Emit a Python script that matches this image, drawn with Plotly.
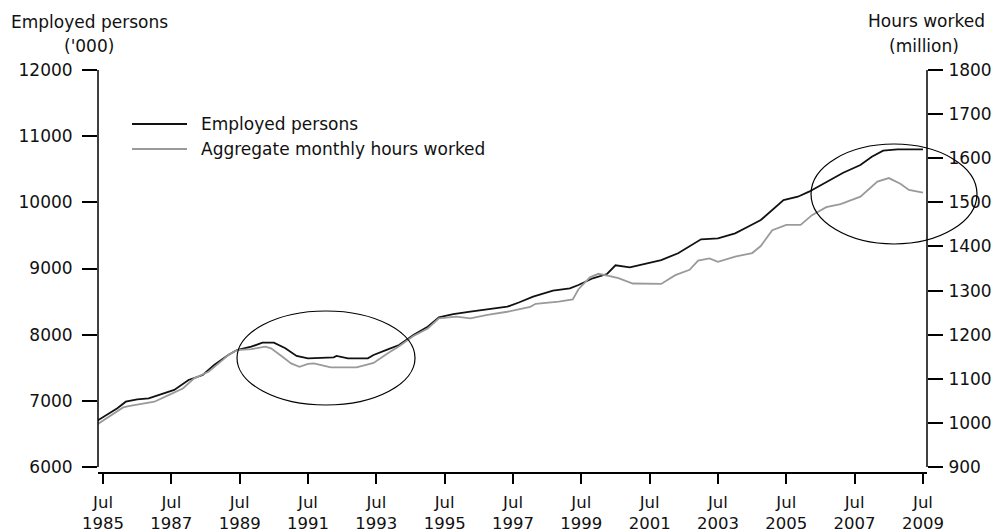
import plotly.graph_objects as go

# ---- data ----
emp_dates = ["1985-05", "1985-09", "1985-12", "1986-03", "1986-07", "1986-11", "1987-04", "1987-08",
             "1988-01", "1988-06", "1988-10", "1989-03", "1989-06", "1989-11", "1990-03", "1990-07",
             "1990-11", "1991-03", "1991-07", "1992-04", "1992-05", "1992-09", "1993-04", "1993-06",
             "1993-11", "1994-03", "1994-08", "1995-01", "1995-05", "1995-10", "1996-04", "1996-10",
             "1997-05", "1997-09", "1998-02", "1998-09", "1999-03", "1999-06", "1999-11", "2000-04",
             "2000-07", "2000-12", "2001-06", "2001-11", "2002-05", "2002-10", "2003-01", "2003-07",
             "2004-01", "2004-06", "2004-10", "2005-06", "2005-11", "2006-03", "2006-09", "2007-03",
             "2007-09", "2008-01", "2008-05", "2008-10", "2009-07"]
employed = [6700, 6812, 6887, 6987, 7023, 7038, 7114, 7164,
            7315, 7390, 7542, 7693, 7768, 7818, 7879, 7879,
            7794, 7678, 7643, 7658, 7678, 7643, 7643, 7693,
            7779, 7844, 7995, 8120, 8262, 8312, 8347, 8383,
            8423, 8486, 8574, 8664, 8701, 8751, 8852, 8917,
            9048, 9018, 9079, 9128, 9230, 9355, 9441, 9456,
            9532, 9642, 9733, 10035, 10085, 10161, 10312, 10448,
            10564, 10690, 10780, 10801, 10801]

hrs_dates = ["1985-05", "1985-09", "1986-02", "1986-04", "1986-10", "1987-01", "1987-06", "1987-11",
             "1988-03", "1988-08", "1989-01", "1989-03", "1989-06", "1989-11", "1990-04", "1990-06",
             "1990-10", "1991-01", "1991-04", "1991-07", "1991-09", "1992-03", "1992-12", "1993-06",
             "1993-11", "1994-03", "1994-08", "1995-01", "1995-05", "1995-11", "1996-04", "1996-10",
             "1997-05", "1997-09", "1998-01", "1998-03", "1998-11", "1999-04", "1999-06", "1999-10",
             "2000-01", "2000-05", "2000-08", "2001-01", "2001-11", "2002-04", "2002-09", "2002-12",
             "2003-04", "2003-07", "2004-01", "2004-07", "2004-10", "2005-02", "2005-07", "2005-12",
             "2006-04", "2006-09", "2007-02", "2007-09", "2008-03", "2008-07", "2008-11", "2009-02",
             "2009-07"]
hours = [997, 1014, 1035, 1038, 1044, 1048, 1063, 1078,
         1101, 1116, 1143, 1154, 1165, 1167, 1173, 1169,
         1150, 1135, 1127, 1134, 1135, 1126, 1126, 1136,
         1158, 1174, 1197, 1214, 1237, 1241, 1237, 1245,
         1252, 1257, 1263, 1270, 1275, 1280, 1303, 1330,
         1338, 1333, 1328, 1316, 1315, 1335, 1347, 1368,
         1373, 1365, 1377, 1385, 1401, 1437, 1449, 1449,
         1471, 1489, 1496, 1513, 1547, 1555, 1542, 1528,
         1522]

tick_years = [1985, 1987, 1989, 1991, 1993, 1995, 1997, 1999, 2001, 2003, 2005, 2007, 2009]
left_ticks = [6000, 7000, 8000, 9000, 10000, 11000, 12000]
right_ticks = [900, 1000, 1100, 1200, 1300, 1400, 1500, 1600, 1700, 1800]

series_names = ["Employed persons", "Aggregate monthly hours worked"]
series_colors = ["#111111", "#9a9a9a"]

FONT = "DejaVu Sans"
FS = 17
FSX = 16.5
TXT = "#111111"

fig = go.Figure()
fig.add_trace(go.Scatter(x=[d + "-01" for d in emp_dates], y=employed, mode="lines",
                         name=series_names[0], line=dict(color=series_colors[0], width=1.8),
                         yaxis="y", showlegend=False))
fig.add_trace(go.Scatter(x=[d + "-01" for d in hrs_dates], y=hours, mode="lines",
                         name=series_names[1], line=dict(color=series_colors[1], width=1.8),
                         yaxis="y2", showlegend=False))

fig.update_layout(
    width=1000, height=532,
    margin=dict(l=98, r=73, t=70, b=60),
    paper_bgcolor="white", plot_bgcolor="white",
    font=dict(family=FONT, size=FS, color=TXT),
    xaxis=dict(
        type="date", range=["1985-05-08", "2009-08-13"],
        tickvals=[f"{y}-07-01" for y in tick_years],
        ticktext=[f"Jul<br>{y}" for y in tick_years],
        ticks="outside", ticklen=10, tickwidth=1.5, tickcolor="black",
        showline=True, linecolor="black", linewidth=1.5,
        showgrid=False, zeroline=False, automargin=False,
        tickfont=dict(family=FONT, size=FSX, color=TXT),
        ticklabelstandoff=4,
    ),
    yaxis=dict(
        range=[5924.4, 12000], tickvals=left_ticks, ticktext=[str(v) for v in left_ticks],
        ticks="outside", ticklen=15, tickwidth=1.5, tickcolor="black",
        showline=False, showgrid=False, zeroline=False, automargin=False,
        tickfont=dict(family=FONT, size=FS, color=TXT),
        ticklabelstandoff=6,
    ),
    yaxis2=dict(
        range=[888.7, 1800], tickvals=right_ticks, ticktext=[str(v) for v in right_ticks],
        overlaying="y", side="right",
        ticks="outside", ticklen=15, tickwidth=1.5, tickcolor="black",
        showline=False, showgrid=False, zeroline=False, automargin=False,
        tickfont=dict(family=FONT, size=FS, color=TXT),
        ticklabelstandoff=2,
    ),
)

# axis lines (vertical axes stop at the bottom tick, as in the reference)
fig.add_shape(type="line", xref="paper", yref="y", x0=0, x1=0, y0=6000, y1=12000,
              line=dict(color="black", width=1.5))
fig.add_shape(type="line", xref="paper", yref="y", x0=1, x1=1, y0=6000, y1=12000,
              line=dict(color="black", width=1.5))

# highlight ellipses
fig.add_shape(type="circle", xref="paper", yref="paper", x0=0.1677, x1=0.3824, y0=0.1667, y1=0.4005,
              line=dict(color="black", width=1.2))
fig.add_shape(type="circle", xref="paper", yref="paper", x0=0.8601, x1=1.0603, y0=0.5672, y1=0.8159,
              line=dict(color="black", width=1.2))

# legend (drawn manually)
def px_x(px):
    return (px - 98) / 829.0

def px_y(py):
    return (472 - py) / 402.0

for i, (name, col, ly) in enumerate(zip(series_names, series_colors, [124, 149])):
    fig.add_shape(type="line", xref="paper", yref="paper", x0=px_x(132), x1=px_x(187),
                  y0=px_y(ly), y1=px_y(ly), line=dict(color=col, width=1.8))
    fig.add_annotation(xref="paper", yref="paper", x=px_x(199), y=px_y(ly), text=name,
                       showarrow=False, xanchor="left", yanchor="middle",
                       font=dict(family=FONT, size=FS, color=TXT))

# axis titles
fig.add_annotation(xref="paper", yref="paper", x=px_x(89), y=px_y(22), text="Employed persons",
                   showarrow=False, xanchor="center", yanchor="middle",
                   font=dict(family=FONT, size=FS, color=TXT))
fig.add_annotation(xref="paper", yref="paper", x=px_x(89), y=px_y(46), text="('000)",
                   showarrow=False, xanchor="center", yanchor="middle",
                   font=dict(family=FONT, size=FS, color=TXT))
fig.add_annotation(xref="paper", yref="paper", x=px_x(926), y=px_y(21), text="Hours worked",
                   showarrow=False, xanchor="center", yanchor="middle",
                   font=dict(family=FONT, size=FS, color=TXT))
fig.add_annotation(xref="paper", yref="paper", x=px_x(924), y=px_y(46), text="(million)",
                   showarrow=False, xanchor="center", yanchor="middle",
                   font=dict(family=FONT, size=FS, color=TXT))

fig.write_html("out.html", config={"displayModeBar": False},
               post_script="document.body.style.margin='0';")
